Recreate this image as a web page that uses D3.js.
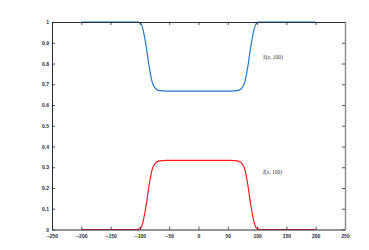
<!DOCTYPE html>
<html><head><meta charset="utf-8">
<script src="https://cdn.jsdelivr.net/npm/d3@7"></script>
<style>body{margin:0;background:#fff}svg{display:block}</style>
</head><body>
<svg id="c" width="369" height="250"></svg>
<script>
const xTicks = [-250,-200,-150,-100,-50,0,50,100,150,200,250];
const yTicks = [0,0.1,0.2,0.3,0.4,0.5,0.6,0.7,0.8,0.9,1];
const xs = [-200,-110,-103,-100,-97,-94,-91,-88,-85,-82,-79,-76,-72,-66,-55,0,55,66,72,76,79,82,85,88,91,94,97,100,103,110,200];
const sVals = [1,1,0.999,0.995,0.985,0.955,0.91,0.86,0.8,0.75,0.71,0.69,0.676,0.669,0.667,0.667,0.667,0.669,0.676,0.69,0.71,0.75,0.8,0.86,0.91,0.955,0.985,0.995,0.999,1,1];
const iVals = [0,0,0.001,0.005,0.015,0.045,0.09,0.14,0.2,0.25,0.29,0.31,0.324,0.331,0.333,0.333,0.333,0.331,0.324,0.31,0.29,0.25,0.2,0.14,0.09,0.045,0.015,0.005,0.001,0,0];
const labels = [{t:"S", y:0.82},{t:"I", y:0.267}];

const svg = d3.select("#c");
const L=52, R=345, T=22, B=229.5;
const x = d3.scaleLinear().domain([-250,250]).range([L,R]);
const y = d3.scaleLinear().domain([0,1]).range([B,T]);
const ink = "#262a3a";

const line = d3.line().x((d,i)=>x(xs[i])).y(d=>y(d)).curve(d3.curveMonotoneX);
svg.append("path").attr("d",line(sVals)).attr("fill","none").attr("stroke","#1f78c8").attr("stroke-width",1.2);
svg.append("path").attr("d",line(iVals)).attr("fill","none").attr("stroke","#ff1a1a").attr("stroke-width",1.2);

// axes
const gx = svg.append("g").attr("transform",`translate(0,${B})`)
  .call(d3.axisBottom(x).tickValues(xTicks).tickSizeInner(-3).tickSizeOuter(0).tickPadding(5));
const gxt = svg.append("g").attr("transform",`translate(0,${T})`)
  .call(d3.axisTop(x).tickValues(xTicks).tickSizeInner(-3).tickSizeOuter(0).tickFormat(""));
const gy = svg.append("g").attr("transform",`translate(${L},0)`)
  .call(d3.axisLeft(y).tickValues(yTicks).tickSizeInner(-3).tickSizeOuter(0).tickPadding(3).tickFormat(d=>d3.format("")(d)));
const gyr = svg.append("g").attr("transform",`translate(${R},0)`)
  .call(d3.axisRight(y).tickValues(yTicks).tickSizeInner(-3).tickSizeOuter(0).tickFormat(""));
[gx,gxt,gy,gyr].forEach(g=>{
  g.selectAll("path").attr("stroke",ink).attr("stroke-width",1);
  g.selectAll("line").attr("stroke",ink).attr("stroke-width",0.8);
  g.selectAll("text").attr("fill",ink).style("font-family","Liberation Sans, Arial, sans-serif").style("font-size","5px").style("font-weight","bold");
});
gyr.select("path").attr("stroke","#888").attr("stroke-width",1.4);
gx.selectAll("text").attr("dy","0.6em");

labels.forEach(l=>{
  const t = svg.append("text").attr("x",263).attr("y",y(l.y)).attr("font-family","Liberation Serif, Times New Roman, serif").attr("font-size","5.5px").attr("fill","#333");
  t.append("tspan").attr("font-style","italic").text(l.t);
  t.append("tspan").text("(");
  t.append("tspan").attr("font-style","italic").text("x");
  t.append("tspan").text(", 100)");
});
</script>
</body></html>
